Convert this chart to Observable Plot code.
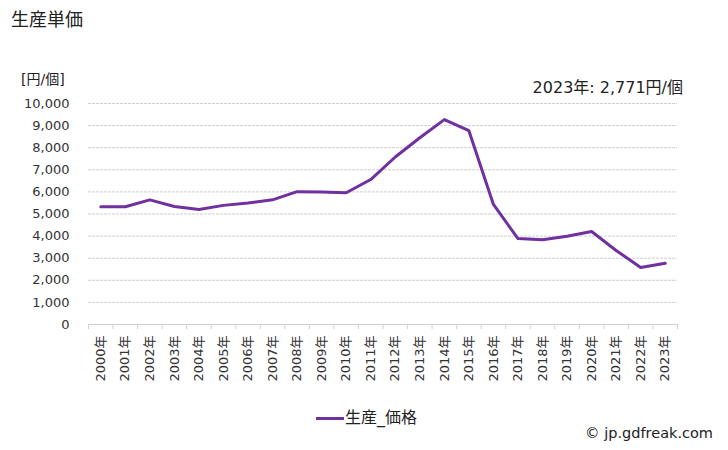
<!DOCTYPE html>
<html><head><meta charset="utf-8">
<script src="https://cdn.jsdelivr.net/npm/d3@7"></script>
<script src="https://cdn.jsdelivr.net/npm/@observablehq/plot@0.6"></script>
<style>
body{margin:0;background:#fff;font-family:"DejaVu Sans","Noto Sans CJK JP",sans-serif;}
#wrap{position:relative;width:728px;height:450px;overflow:hidden;}
.abs{position:absolute;white-space:nowrap;color:#222;line-height:1;}
</style></head>
<body><div id="wrap">
<div class="abs" style="left:11px;top:9px;font-size:18px;font-family:'Noto Sans CJK JP',sans-serif;">生産単価</div>
<div class="abs" style="left:21px;top:72px;font-size:14px;">[円/個]</div>
<div class="abs" id="note" style="right:45px;top:80px;font-size:16px;"></div>
<div class="abs" style="left:316px;top:410px;font-size:16px;display:flex;align-items:center;"><span style="display:inline-block;width:28px;height:3px;background:#7030a0;margin-right:1px;"></span>生産_価格</div>
<div class="abs" style="right:15px;top:426px;font-size:14.5px;">© jp.gdfreak.com</div>
</div>
<script>
const years = ["2000年","2001年","2002年","2003年","2004年","2005年","2006年","2007年","2008年","2009年","2010年","2011年","2012年","2013年","2014年","2015年","2016年","2017年","2018年","2019年","2020年","2021年","2022年","2023年"];
const prices = [5330,5330,5640,5340,5200,5390,5500,5640,6010,6000,5960,6560,7580,8450,9270,8770,5430,3890,3830,3990,4210,3350,2580,2771];
const yTicks = [0,1000,2000,3000,4000,5000,6000,7000,8000,9000,10000];
const seriesName = "生産_価格";
const data = years.map((y,i)=>({year:y, value:prices[i]}));
document.getElementById("note").textContent = `2023年: ${d3.format(",")(prices[prices.length-1])}円/個`;

const W=728,H=450,mL=88,mR=51,mT=103,mB=126;
const bw=(W-mL-mR)/years.length;
const chart = Plot.plot({
  width:W,height:H,marginLeft:mL,marginRight:mR,marginTop:mT,marginBottom:mB,
  style:{fontFamily:'"DejaVu Sans","Noto Sans CJK JP",sans-serif',background:"transparent",color:"#333"},
  x:{type:"band",domain:years,padding:0,round:false,label:null},
  y:{domain:[0,10000],label:null},
  marks:[
    Plot.gridY(yTicks.filter(d=>d>0),{stroke:"#cfcfcf",strokeOpacity:1,strokeWidth:1,strokeDasharray:"3,1"}),
    Plot.ruleY([0],{stroke:"#d0d0d0"}),
    Plot.axisY(yTicks,{tickSize:0,tickPadding:19,tickFormat:d3.format(","),fontSize:13,fill:"#333",label:null}),
    Plot.axisX(years,{tickSize:5,tickFormat:()=>"",dx:-bw/2,stroke:"#d0d0d0",label:null}),
    Plot.axisX([years[years.length-1]],{tickSize:5,tickFormat:()=>"",dx:bw/2,stroke:"#d0d0d0",label:null}),
    Plot.axisX(years,{tickSize:0,tickPadding:11,tickRotate:-90,fontSize:13,fill:"#333",label:null}),
    Plot.lineY(data,{x:"year",y:"value",stroke:"#7030a0",strokeWidth:3,title:()=>seriesName})
  ]
});
chart.style.position="absolute";chart.style.left="0";chart.style.top="0";
document.getElementById("wrap").prepend(chart);
</script></body></html>
